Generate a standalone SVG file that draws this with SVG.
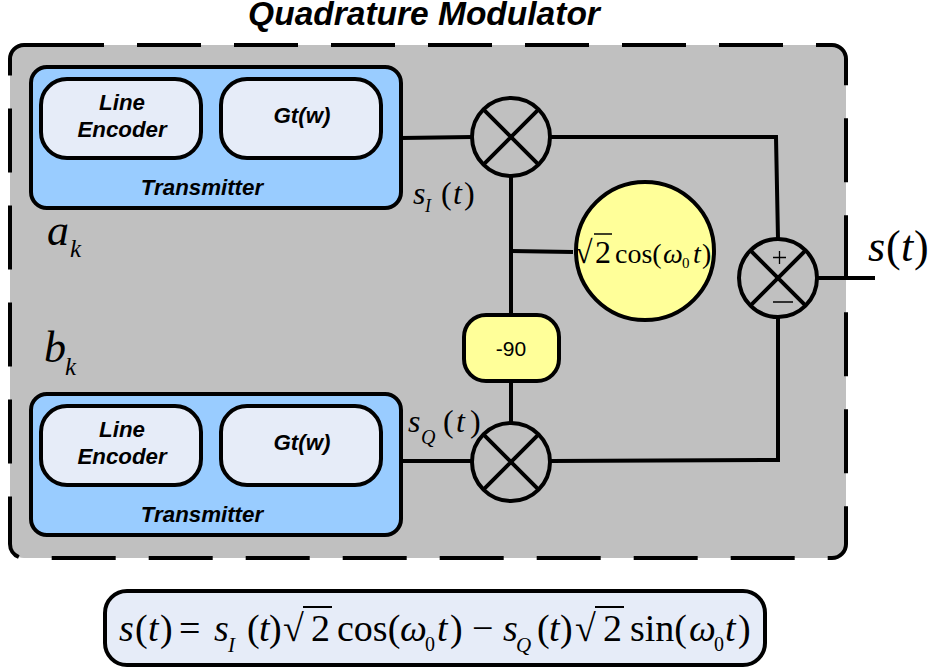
<svg xmlns="http://www.w3.org/2000/svg" width="932" height="670" viewBox="0 0 932 670">
<style>
.ln{fill:none;stroke:#000;stroke-width:4}
.tx{fill:#99ccff;stroke:#000;stroke-width:4}
.bk{fill:#e6ecf8;stroke:#000;stroke-width:4}
.yl{fill:#ffff99;stroke:#000;stroke-width:4}
.mx{fill:none;stroke:#000;stroke-width:4}
.s{font-family:"Liberation Sans",Arial,sans-serif;font-weight:bold;font-style:italic;text-anchor:middle;fill:#000}
.m{font-family:"Liberation Serif","Times New Roman",serif;fill:#000}
.i{font-style:italic}
</style>
<text class="s" x="424" y="25" font-size="33.500">Quadrature Modulator</text>
<g id="frame">
<rect x="10" y="45" width="836" height="513" rx="14" fill="#c0c0c0"/>
<path d="M40 45H832A14 14 0 0 1 846 59V544A14 14 0 0 1 832 558H24A14 14 0 0 1 10 544V59A14 14 0 0 1 24 45H40" fill="none" stroke="#000" stroke-width="4" stroke-dasharray="64 33"/>
</g>
<g id="connectors" class="ln">
<path d="M401 138L472 137"/>
<path d="M550 137H776L778 239"/>
<path d="M511 176V315"/>
<path d="M511 251L573 252"/>
<path d="M511 381V423"/>
<path d="M401 461H472"/>
<path d="M550 461L778 460V317"/>
<path d="M817 278H875"/>
<path d="M201 118H221"/>
<path d="M201 445H221"/>
</g>
<g id="transmitter-1">
<rect class="tx" x="31" y="67" width="370" height="141" rx="16"/>
<text class="s" x="202" y="195" font-size="22.300">Transmitter</text>
</g>
<g id="line-encoder-1">
<rect class="bk" x="41" y="79" width="160" height="79" rx="26"/>
<text class="s" x="122" y="110" font-size="22.300">Line</text>
<text class="s" x="122" y="137" font-size="22.300">Encoder</text>
</g>
<g id="gt-1">
<rect class="bk" x="221" y="79" width="160" height="79" rx="26"/>
<text class="s" x="302" y="123" font-size="22.300">Gt(w)</text>
</g>
<g id="transmitter-2">
<rect class="tx" x="31" y="394" width="370" height="141" rx="16"/>
<text class="s" x="202" y="522" font-size="22.300">Transmitter</text>
</g>
<g id="line-encoder-2">
<rect class="bk" x="41" y="406" width="160" height="79" rx="26"/>
<text class="s" x="122" y="437" font-size="22.300">Line</text>
<text class="s" x="122" y="464" font-size="22.300">Encoder</text>
</g>
<g id="gt-2">
<rect class="bk" x="221" y="406" width="160" height="79" rx="26"/>
<text class="s" x="302" y="450" font-size="22.300">Gt(w)</text>
</g>
<g id="mixer-1" class="mx">
<circle cx="511" cy="137" r="39"/>
<path d="M483.400 109.400L538.600 164.600M483.400 164.600L538.600 109.400"/>
</g>
<g id="mixer-2" class="mx">
<circle cx="511" cy="462" r="39"/>
<path d="M483.400 434.400L538.600 489.600M483.400 489.600L538.600 434.400"/>
</g>
<g id="summer">
<circle class="mx" cx="778" cy="278" r="39"/>
<path class="mx" d="M750.400 250.400L805.600 305.600M750.400 305.600L805.600 250.400"/>
<path d="M773 257.500H786M779.500 251V264M773 302H793" fill="none" stroke="#000" stroke-width="1.300"/>
</g>
<g id="oscillator">
<circle class="yl" cx="645" cy="251" r="69"/>
<text class="m" x="575" y="263" font-size="32">√</text>
<path d="M594 234H612" fill="none" stroke="#000" stroke-width="1.500"/>
<text class="m" x="595" y="263" font-size="32">2</text>
<text class="m" x="615" y="263" font-size="28">cos(</text>
<text class="m i" x="663" y="263" font-size="28">ω</text>
<text class="m" x="682" y="268" font-size="15">0</text>
<text class="m i" x="693" y="263" font-size="28">t</text>
<text class="m" x="702" y="263" font-size="28">)</text>
</g>
<g id="phase-shift">
<rect class="yl" x="464" y="315" width="95" height="66" rx="22"/>
<text x="511" y="356" font-family="Liberation Sans,Arial,sans-serif" font-size="21" text-anchor="middle">-90</text>
</g>
<g id="labels">
<text class="m i" x="47" y="245" font-size="44">a</text>
<text class="m i" x="70" y="257" font-size="25">k</text>
<text class="m i" x="44" y="362" font-size="44">b</text>
<text class="m i" x="65" y="375" font-size="25">k</text>
<text class="m i" x="413" y="204" font-size="32">s</text>
<text class="m i" x="425" y="212" font-size="18">I</text>
<text class="m" x="441" y="204" font-size="32">(</text><text class="m i" x="453" y="204" font-size="32">t</text><text class="m" x="464" y="204" font-size="32">)</text>
<text class="m i" x="408" y="432" font-size="32">s</text>
<text class="m i" x="421" y="444" font-size="20">Q</text>
<text class="m" x="443" y="432" font-size="32">(</text><text class="m i" x="456" y="432" font-size="32">t</text><text class="m" x="470" y="432" font-size="32">)</text>
<text class="m i" x="868" y="261" font-size="44">s</text>
<text class="m" x="886" y="261" font-size="44">(</text><text class="m i" x="901" y="261" font-size="44">t</text><text class="m" x="914" y="261" font-size="44">)</text>
</g>
<g id="formula">
<rect class="bk" x="105" y="591" width="660" height="74" rx="22"/>
<g font-size="38">
<text class="m i" x="119" y="641">s</text>
<text class="m" x="135" y="641">(</text><text class="m i" x="148" y="641">t</text><text class="m" x="160" y="641">)</text>
<text class="m" x="179" y="641">=</text>
<text class="m i" x="214" y="641">s</text>
<text class="m" x="247" y="641">(</text><text class="m i" x="259" y="641">t</text><text class="m" x="269" y="641">)</text>
<text class="m" x="283" y="641">√</text>
<text class="m" x="311" y="641">2</text>
<text class="m" x="337" y="641">cos(</text>
<text class="m i" x="400" y="641">ω</text>
<text class="m i" x="437" y="641">t</text>
<text class="m" x="450" y="641">)</text>
<text class="m" x="472" y="641">−</text>
<text class="m i" x="503" y="641">s</text>
<text class="m" x="537" y="641">(</text><text class="m i" x="549" y="641">t</text><text class="m" x="560" y="641">)</text>
<text class="m" x="575" y="641">√</text>
<text class="m" x="603" y="641">2</text>
<text class="m" x="630" y="641">sin(</text>
<text class="m i" x="689" y="641">ω</text>
<text class="m i" x="725" y="641">t</text>
<text class="m" x="738" y="641">)</text>
</g>
<text class="m i" x="228" y="652" font-size="21">I</text>
<text class="m i" x="516" y="652" font-size="21">Q</text>
<text class="m" x="425" y="651" font-size="20">0</text>
<text class="m" x="714" y="651" font-size="20">0</text>
<path d="M303 607H332M595 607H624" fill="none" stroke="#000" stroke-width="2"/>
</g>
</svg>
